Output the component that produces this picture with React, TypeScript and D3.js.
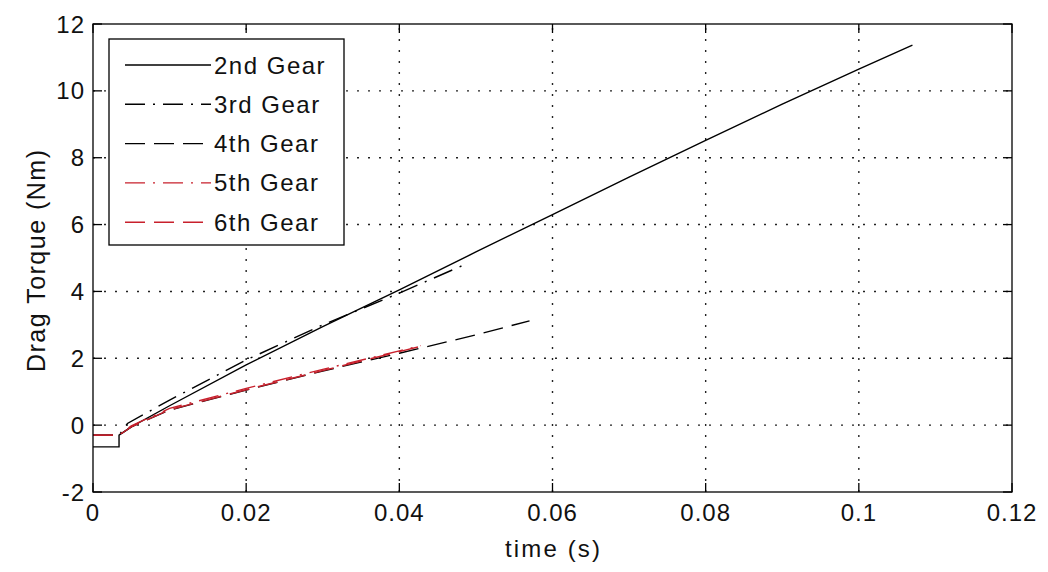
import React from 'react';
import * as d3 from 'd3';

// Axis ticks
const xTicks = [0, 0.02, 0.04, 0.06, 0.08, 0.1, 0.12];
const xTickLabels = ['0', '0.02', '0.04', '0.06', '0.08', '0.1', '0.12'];
const yTicks = [-2, 0, 2, 4, 6, 8, 10, 12];
const yTickLabels = ['-2', '0', '2', '4', '6', '8', '10', '12'];

// Drag torque (Nm) vs time (s) for each gear
const gear2Time = [0, 0.0034, 0.0034, 0.005, 0.01, 0.02, 0.03, 0.04, 0.05, 0.06, 0.07, 0.08, 0.09, 0.1, 0.107];
const gear2Torque = [-0.65, -0.65, -0.3, -0.05, 0.58, 1.8, 2.95, 4.05, 5.18, 6.3, 7.42, 8.52, 9.6, 10.65, 11.37];

const gear3Time = [0, 0.0034, 0.0045, 0.01, 0.02, 0.03, 0.04, 0.049];
const gear3Torque = [-0.3, -0.3, 0.05, 0.75, 1.95, 3.0, 3.95, 4.85];

const gear4Time = [0, 0.0034, 0.005, 0.01, 0.02, 0.03, 0.04, 0.05, 0.057];
const gear4Torque = [-0.3, -0.3, -0.05, 0.45, 1.05, 1.62, 2.15, 2.7, 3.12];

const gear5Time = [0, 0.0034, 0.005, 0.01, 0.02, 0.03, 0.04, 0.0428];
const gear5Torque = [-0.3, -0.3, -0.02, 0.5, 1.1, 1.67, 2.22, 2.38];

const gear6Time = [0, 0.0034, 0.005, 0.01, 0.02, 0.03, 0.04, 0.0435];
const gear6Torque = [-0.3, -0.3, -0.05, 0.46, 1.06, 1.63, 2.2, 2.4];

const seriesNames = ['2nd Gear', '3rd Gear', '4th Gear', '5th Gear', '6th Gear'];
const seriesTimes = [gear2Time, gear3Time, gear4Time, gear5Time, gear6Time];
const seriesTorques = [gear2Torque, gear3Torque, gear4Torque, gear5Torque, gear6Torque];

const RED = '#c8202c';
const lineStyles = [
  { color: '#000', dash: 'none' },
  { color: '#000', dash: '20,8,2,8' },
  { color: '#000', dash: '20,9' },
  { color: RED, dash: '20,8,2,8' },
  { color: RED, dash: '20,9' },
];

const W = 1048;
const H = 572;
const plot = { left: 93, right: 1012, top: 24, bottom: 492 };
const FONT = '"Liberation Sans", Arial, Helvetica, sans-serif';
const TEXT = '#111';

export default function App() {
  const x = d3.scaleLinear().domain([0, 0.12]).range([plot.left, plot.right]);
  const y = d3.scaleLinear().domain([-2, 12]).range([plot.bottom, plot.top]);
  const tickLen = 9;

  const line = d3
    .line<[number, number]>()
    .x((d) => x(d[0]))
    .y((d) => y(d[1]));

  const series = seriesNames.map((name, i) => ({
    name,
    pts: seriesTimes[i].map((t, k) => [t, seriesTorques[i][k]] as [number, number]),
    style: lineStyles[i],
  }));

  // legend geometry
  const lg = { x0: 109, x1: 344, y0: 39, y1: 245 };
  const legendRowY = (i: number) => 65 + i * 39.3;

  return (
    <svg
      width={W}
      height={H}
      style={{ position: 'absolute', left: 0, top: 0, background: '#fff' }}
      fontFamily={FONT}
    >
      <rect x={0} y={0} width={W} height={H} fill="#fff" />

      {/* grid */}
      <g stroke="#222" strokeWidth={1.4} strokeDasharray="2,9">
        {xTicks.slice(1, -1).map((t) => (
          <line key={'gx' + t} x1={x(t)} x2={x(t)} y1={plot.bottom} y2={plot.top} />
        ))}
        {yTicks.slice(1, -1).map((v) => (
          <line key={'gy' + v} x1={plot.left} x2={plot.right} y1={y(v)} y2={y(v)} />
        ))}
      </g>

      {/* data lines */}
      {series.map((s) => (
        <path
          key={s.name}
          d={line(s.pts) || ''}
          fill="none"
          stroke={s.style.color}
          strokeWidth={1.4}
          strokeDasharray={s.style.dash}
        />
      ))}

      {/* axes box and ticks */}
      <g stroke="#000" strokeWidth={1.3}>
        <rect
          x={plot.left}
          y={plot.top}
          width={plot.right - plot.left}
          height={plot.bottom - plot.top}
          fill="none"
        />
        {xTicks.map((t) => (
          <g key={'tx' + t}>
            <line x1={x(t)} x2={x(t)} y1={plot.bottom} y2={plot.bottom - tickLen} />
            <line x1={x(t)} x2={x(t)} y1={plot.top} y2={plot.top + tickLen} />
          </g>
        ))}
        {yTicks.map((v) => (
          <g key={'ty' + v}>
            <line x1={plot.left} x2={plot.left + tickLen} y1={y(v)} y2={y(v)} />
            <line x1={plot.right} x2={plot.right - tickLen} y1={y(v)} y2={y(v)} />
          </g>
        ))}
      </g>

      {/* tick labels */}
      <g fontSize={24} fill={TEXT} letterSpacing={1}>
        {xTicks.map((t, i) => (
          <text key={'lx' + t} x={x(t)} y={521} textAnchor="middle">
            {xTickLabels[i]}
          </text>
        ))}
        {yTicks.map((v, i) => (
          <text key={'ly' + v} x={85} y={y(v) + 8.5} textAnchor="end">
            {yTickLabels[i]}
          </text>
        ))}
      </g>

      {/* axis titles */}
      <text
        x={(plot.left + plot.right) / 2}
        y={557}
        textAnchor="middle"
        fontSize={24}
        fill={TEXT}
        textLength={95}
        lengthAdjust="spacing"
      >
        time (s)
      </text>
      <text
        transform={`translate(45,${(plot.top + plot.bottom) / 2 + 3}) rotate(-90)`}
        textAnchor="middle"
        fontSize={25}
        fill={TEXT}
        textLength={222}
        lengthAdjust="spacing"
      >
        Drag Torque (Nm)
      </text>

      {/* legend */}
      <rect x={lg.x0} y={lg.y0} width={lg.x1 - lg.x0} height={lg.y1 - lg.y0} fill="#fff" stroke="#000" strokeWidth={1.3} />
      {series.map((s, i) => (
        <g key={'lg' + s.name}>
          <line
            x1={125}
            x2={211}
            y1={legendRowY(i)}
            y2={legendRowY(i)}
            stroke={s.style.color}
            strokeWidth={1.4}
            strokeDasharray={s.style.dash}
          />
          <text x={214} y={legendRowY(i) + 8.5} fontSize={24} fill={TEXT} letterSpacing={1.5}>
            {s.name}
          </text>
        </g>
      ))}
    </svg>
  );
}
